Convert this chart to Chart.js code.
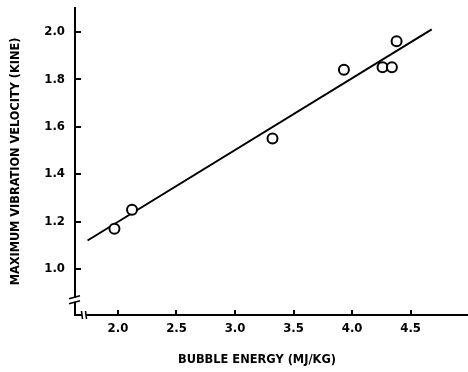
<!DOCTYPE html>
<html>
<head>
<meta charset="utf-8">
<script src="https://cdn.jsdelivr.net/npm/chart.js@4"></script>
<style>
  html, body { margin: 0; padding: 0; background: #fff; }
  #wrap { width: 468px; height: 372px; }
</style>
</head>
<body>
<div id="wrap"><canvas id="chart"></canvas></div>
<script>
// measured points
const energy = [1.97, 2.12, 3.32, 3.93, 4.26, 4.34, 4.38];
const velocity = [1.17, 1.25, 1.55, 1.84, 1.85, 1.85, 1.96];
// fitted line end points
const fitEnergy = [1.74, 4.68];
const fitVelocity = [1.12, 2.01];
const xTicks = [2.0, 2.5, 3.0, 3.5, 4.0, 4.5];
const yTicks = [1.0, 1.2, 1.4, 1.6, 1.8, 2.0];
const xTitle = 'BUBBLE ENERGY (MJ/KG)';
const yTitle = 'MAXIMUM VIBRATION VELOCITY (KINE)';
const xBreak = 1.71;
const yBreak = 0.87;

const FONT = "'DejaVu Sans Condensed', 'DejaVu Sans', sans-serif";

const decorations = {
    id: 'decorations',
    afterDraw(chart) {
        const { ctx, scales: { x, y } } = chart;
        const ax = x.left;
        const ay = y.bottom;
        ctx.save();
        ctx.strokeStyle = '#000';
        ctx.lineWidth = 2;
        ctx.lineCap = 'butt';

        // inward tick marks
        yTicks.forEach((v) => {
            const py = Math.round(y.getPixelForValue(v));
            ctx.beginPath();
            ctx.moveTo(ax, py);
            ctx.lineTo(ax + 6, py);
            ctx.stroke();
        });
        xTicks.forEach((v) => {
            const px = Math.round(x.getPixelForValue(v));
            ctx.beginPath();
            ctx.moveTo(px, ay);
            ctx.lineTo(px, ay - 5);
            ctx.stroke();
        });

        // break on the y axis
        const by = y.getPixelForValue(yBreak);
        ctx.fillStyle = '#fff';
        ctx.fillRect(ax - 2, by - 2, 4, 4);
        ctx.lineWidth = 1.5;
        [-2.5, 2.5].forEach((d) => {
            ctx.beginPath();
            ctx.moveTo(ax - 6, by + d + 1.5);
            ctx.lineTo(ax + 5, by + d - 1.5);
            ctx.stroke();
        });

        // break on the x axis
        const bx = x.getPixelForValue(xBreak);
        ctx.fillRect(bx - 2, ay - 2, 4, 4);
        [-2, 2].forEach((d) => {
            ctx.beginPath();
            ctx.moveTo(bx + d - 0.5, ay - 4);
            ctx.lineTo(bx + d + 0.5, ay + 4);
            ctx.stroke();
        });

        // x axis title
        ctx.fillStyle = '#000';
        ctx.font = 'bold 12.7px ' + FONT;
        ctx.textAlign = 'center';
        ctx.textBaseline = 'middle';
        ctx.fillText(xTitle, 257, 360);
        ctx.restore();
    },
};

new Chart(document.getElementById('chart'), {
    type: 'scatter',
    data: {
        datasets: [
            {
                label: 'Measured',
                data: energy.map((e, i) => ({ x: e, y: velocity[i] })),
                pointRadius: 5,
                pointBorderWidth: 2,
                pointBackgroundColor: '#fff',
                pointBorderColor: '#000',
                showLine: false,
            },
            {
                type: 'line',
                label: 'Fit',
                data: fitEnergy.map((e, i) => ({ x: e, y: fitVelocity[i] })),
                borderColor: '#000',
                borderWidth: 2,
                pointRadius: 0,
                fill: false,
            },
        ],
    },
    options: {
        responsive: true,
        maintainAspectRatio: false,
        animation: false,
        layout: { autoPadding: false, padding: { top: 8, right: 0, left: 0, bottom: 0 } },
        plugins: {
            legend: { display: false },
            tooltip: { enabled: false },
        },
        scales: {
            x: {
                type: 'linear',
                min: 1.633,
                max: 4.99,
                afterBuildTicks: (axis) => { axis.ticks = xTicks.map((v) => ({ value: v })); },
                afterFit: (axis) => {
                    axis.height = 57;
                    axis.paddingLeft = 0;
                    axis.paddingRight = 0;
                },
                grid: { display: false, drawTicks: false },
                border: { display: true, color: '#000', width: 2 },
                ticks: {
                    color: '#000',
                    padding: 6,
                    maxRotation: 0,
                    font: { family: FONT, size: 13, weight: 'bold' },
                    callback: (v) => v.toFixed(1),
                },
            },
            y: {
                type: 'linear',
                min: 0.806,
                max: 2.10,
                afterBuildTicks: (axis) => { axis.ticks = yTicks.map((v) => ({ value: v })); },
                afterFit: (axis) => {
                    axis.width = 75;
                    axis.paddingTop = 0;
                    axis.paddingBottom = 0;
                },
                grid: { display: false, drawTicks: false },
                border: { display: true, color: '#000', width: 2 },
                title: {
                    display: true,
                    text: yTitle,
                    color: '#000',
                    padding: { top: 8, bottom: 0 },
                    font: { family: FONT, size: 12.6, weight: 'bold' },
                },
                ticks: {
                    color: '#000',
                    padding: 10,
                    font: { family: FONT, size: 13, weight: 'bold' },
                    callback: (v) => v.toFixed(1),
                },
            },
        },
    },
    plugins: [decorations],
});
</script>
</body>
</html>
